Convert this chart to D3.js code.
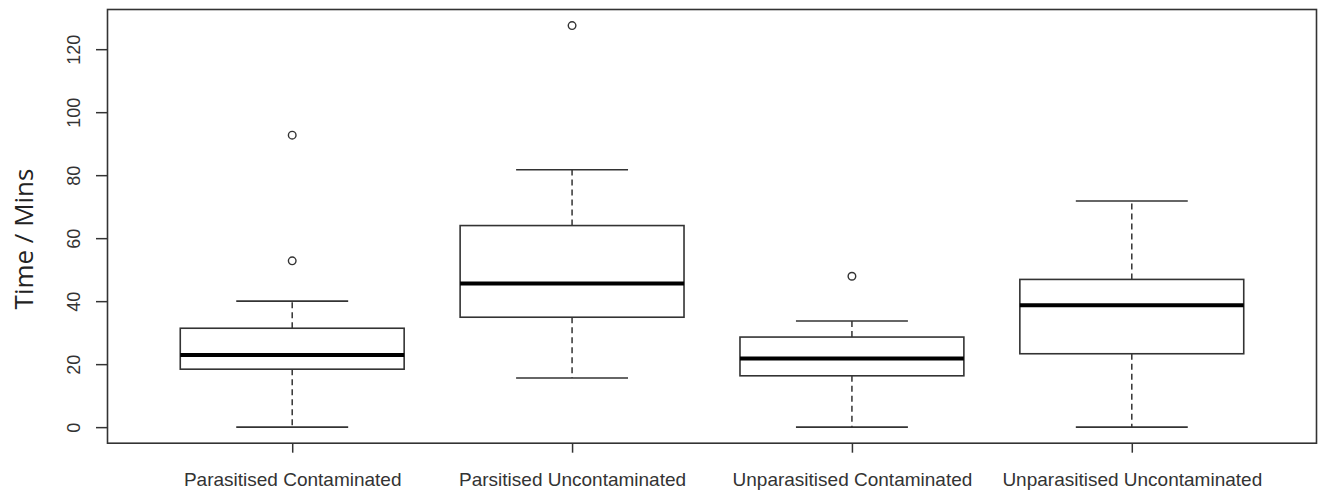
<!DOCTYPE html>
<html>
<head>
<meta charset="utf-8">
<script src="https://cdn.jsdelivr.net/npm/d3@7"></script>
<style>
  html, body { margin: 0; padding: 0; background: #fff; }
  svg { display: block; }
</style>
</head>
<body>
<svg id="chart" width="1325" height="490"></svg>
<script>
// Group names along the x axis
const categories = [
  "Parasitised Contaminated",
  "Parsitised Uncontaminated",
  "Unparasitised Contaminated",
  "Unparasitised Uncontaminated"
];
// Five-number summaries per group (minutes)
const whiskerLow  = [0,    15.6, 0,    0];
const boxLow      = [18.4, 34.9, 16.3, 23.3];
const medians     = [22.9, 45.6, 21.8, 38.7];
const boxHigh     = [31.4, 64.0, 28.6, 46.9];
const whiskerHigh = [40,   81.7, 33.7, 71.8];
// Outlying observations per group
const outliers = [[52.8, 92.7], [127.5], [47.9], []];
// Axis ticks
const yTicks = [0, 20, 40, 60, 80, 100, 120];
const yTitle = "Time / Mins";

const svg = d3.select("#chart");
const ink = "#333";

// Base-R style extended ranges
const x = d3.scaleLinear().domain([0.34, 4.66]).range([107.5, 1316.5]);
const y = d3.scaleLinear().domain([-5.1, 132.6]).range([443.2, 9.5]);

const boxW = 0.8, capW = 0.4;

const groups = categories.map((c, i) => ({
  name: c, pos: i + 1,
  lo: whiskerLow[i], q1: boxLow[i], med: medians[i], q3: boxHigh[i], hi: whiskerHigh[i],
  out: outliers[i]
}));

const g = svg.append("g");

const bx = g.selectAll("g.box").data(groups).join("g").attr("class", "box");

// dashed whiskers
bx.append("line")
  .attr("x1", d => x(d.pos)).attr("x2", d => x(d.pos))
  .attr("y1", d => y(d.q3)).attr("y2", d => y(d.hi))
  .attr("stroke", ink).attr("stroke-width", 1.5).attr("stroke-dasharray", "6,4");
bx.append("line")
  .attr("x1", d => x(d.pos)).attr("x2", d => x(d.pos))
  .attr("y1", d => y(d.q1)).attr("y2", d => y(d.lo))
  .attr("stroke", ink).attr("stroke-width", 1.5).attr("stroke-dasharray", "6,4");

// whisker caps
["hi", "lo"].forEach(k => {
  bx.append("line")
    .attr("x1", d => x(d.pos - capW / 2)).attr("x2", d => x(d.pos + capW / 2))
    .attr("y1", d => y(d[k])).attr("y2", d => y(d[k]))
    .attr("stroke", ink).attr("stroke-width", 1.6);
});

// boxes
bx.append("rect")
  .attr("x", d => x(d.pos - boxW / 2))
  .attr("width", d => x(d.pos + boxW / 2) - x(d.pos - boxW / 2))
  .attr("y", d => y(d.q3))
  .attr("height", d => y(d.q1) - y(d.q3))
  .attr("fill", "#fff").attr("stroke", ink).attr("stroke-width", 1.6);

// medians
bx.append("line")
  .attr("x1", d => x(d.pos - boxW / 2)).attr("x2", d => x(d.pos + boxW / 2))
  .attr("y1", d => y(d.med)).attr("y2", d => y(d.med))
  .attr("stroke", "#000").attr("stroke-width", 4);

// outliers
bx.selectAll("circle")
  .data(d => d.out.map(v => ({ pos: d.pos, v })))
  .join("circle")
  .attr("cx", d => x(d.pos)).attr("cy", d => y(d.v))
  .attr("r", 3.8).attr("fill", "none").attr("stroke", ink).attr("stroke-width", 1.4);

// frame
svg.append("rect")
  .attr("x", x.range()[0]).attr("y", y.range()[1])
  .attr("width", x.range()[1] - x.range()[0])
  .attr("height", y.range()[0] - y.range()[1])
  .attr("fill", "none").attr("stroke", ink).attr("stroke-width", 1.6);

// y axis
const yAxis = d3.axisLeft(y).tickValues(yTicks).tickSize(11).tickFormat(d3.format("d"));
const ya = svg.append("g").attr("transform", `translate(${x.range()[0] - 0.5},0)`).call(yAxis);
ya.select(".domain").remove();
ya.selectAll(".tick line").attr("stroke", ink).attr("stroke-width", 1.5);
ya.selectAll(".tick text")
  .attr("x", null).attr("dy", null)
  .attr("transform", "translate(-27,0) rotate(-90)")
  .attr("text-anchor", "middle")
  .attr("fill", "#333")
  .style("font-family", "'Liberation Sans', Arial, sans-serif")
  .style("font-size", "18px");

// x axis
const xAxis = d3.axisBottom(x).tickValues(groups.map(d => d.pos)).tickSize(9)
  .tickFormat((d, i) => categories[i]);
const xa = svg.append("g").attr("transform", `translate(0,${y.range()[0] + 0.5})`).call(xAxis);
xa.select(".domain").remove();
xa.selectAll(".tick line").attr("stroke", ink).attr("stroke-width", 1.5);
xa.selectAll(".tick text")
  .attr("y", 42).attr("dy", null)
  .attr("fill", "#333")
  .style("font-family", "'Liberation Sans', Arial, sans-serif")
  .style("font-size", "19px");

// y title
svg.append("text")
  .attr("transform", "translate(33,239) rotate(-90)")
  .attr("text-anchor", "middle")
  .attr("fill", "#222")
  .style("font-family", "'Open Sans', 'Noto Sans', sans-serif")
  .style("font-size", "26px")
  .text(yTitle);
</script>
</body>
</html>
